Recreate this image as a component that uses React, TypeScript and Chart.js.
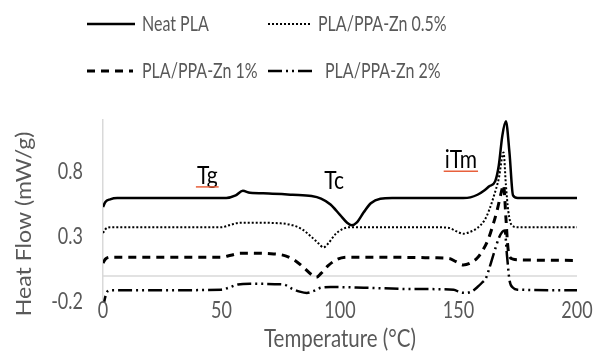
import React, { useEffect, useRef } from "react";
import { Chart, registerables } from "chart.js";

Chart.register(...registerables);

// ---- data ----
const seriesNames = ["Neat PLA", "PLA/PPA-Zn 0.5%", "PLA/PPA-Zn 1%", "PLA/PPA-Zn 2%"];

const neatTemp = [0, 1, 3, 6, 20, 40, 52, 56, 59, 62, 70, 80, 88, 92, 96, 100, 103, 105, 107, 110, 113, 117, 122, 140, 152, 155, 158, 161, 163, 165.5, 167, 168.5, 170, 171.5, 173, 175, 200];
const neatFlow = [0.53, 0.57, 0.59, 0.6, 0.6, 0.6, 0.6, 0.62, 0.655, 0.64, 0.635, 0.625, 0.615, 0.595, 0.55, 0.47, 0.41, 0.39, 0.41, 0.49, 0.56, 0.595, 0.6, 0.6, 0.6, 0.605, 0.625, 0.66, 0.69, 0.73, 0.85, 1.08, 1.19, 0.95, 0.62, 0.6, 0.6];

const zn05Temp = [0, 1, 3, 20, 50, 54, 58, 62, 75, 80, 84, 88, 91, 93, 95, 98, 101, 104, 110, 140, 146, 149, 152, 155, 158, 161, 163, 165, 167, 169, 170, 171, 172.5, 175, 200];
const zn05Flow = [0.33, 0.36, 0.375, 0.375, 0.375, 0.395, 0.41, 0.41, 0.405, 0.39, 0.36, 0.3, 0.25, 0.22, 0.25, 0.32, 0.36, 0.375, 0.375, 0.375, 0.37, 0.345, 0.325, 0.34, 0.37, 0.43, 0.51, 0.62, 0.75, 0.95, 0.7, 0.5, 0.39, 0.375, 0.375];

const zn1Temp = [0, 1, 3, 20, 50, 54, 58, 62, 72, 77, 81, 85, 88, 90, 92, 95, 99, 103, 110, 140, 146, 149, 152, 155, 158, 160, 162.5, 165, 166.5, 168, 169, 170, 170.7, 171.3, 173, 175, 200];
const zn1Flow = [0.1, 0.13, 0.145, 0.145, 0.145, 0.16, 0.175, 0.175, 0.17, 0.155, 0.12, 0.06, 0.01, -0.01, 0.02, 0.08, 0.13, 0.145, 0.145, 0.14, 0.135, 0.11, 0.085, 0.1, 0.14, 0.19, 0.28, 0.42, 0.52, 0.64, 0.7, 0.45, 0.25, 0.16, 0.13, 0.125, 0.12];

const zn2Temp = [0, 0.5, 1.5, 3, 20, 50, 53, 57, 62, 76, 80, 83, 86, 89, 92, 96, 110, 130, 148, 150.5, 153, 156, 158, 160, 161.5, 163, 165, 167, 168.5, 169.5, 170.5, 171.5, 173, 175, 200];
const zn2Flow = [-0.26, -0.2, -0.13, -0.11, -0.11, -0.105, -0.09, -0.065, -0.06, -0.065, -0.1, -0.12, -0.13, -0.115, -0.09, -0.085, -0.09, -0.1, -0.105, -0.125, -0.13, -0.115, -0.085, -0.05, -0.02, 0.06, 0.18, 0.29, 0.34, 0.35, 0.15, -0.03, -0.09, -0.105, -0.11];

const xTickValues = [0, 50, 100, 150, 200];
const yTickValues = [-0.2, 0.3, 0.8];
const xTitle = "Temperature (°C)";
const yTitle = "Heat Flow (mW/g)";

const annotationTexts = ["Tg", "Tc", "iTm"];
const annotationTemps = [44, 97.5, 151];
const annotationFlows = [0.77, 0.73, 0.89];
const annotationUnderlined = [true, false, true];

// ---- styles ----
const FONT = 'Lato, "Liberation Sans", sans-serif';
const GRAY_TEXT = "#595959";
const lineStyles = [
  { dash: [] as number[], width: 2.5 },
  { dash: [2, 2], width: 2 },
  { dash: [8, 6], width: 3 },
  { dash: [14, 4, 2, 4, 2, 4], width: 2.5 },
];
const legendPlaces = [
  { x1: 87, x2: 135, y: 24, tx: 142 },
  { x1: 268, x2: 310, y: 24, tx: 318 },
  { x1: 87, x2: 133, y: 71, tx: 142 },
  { x1: 268, x2: 316, y: 71, tx: 325 },
];

const temps = [neatTemp, zn05Temp, zn1Temp, zn2Temp];
const flows = [neatFlow, zn05Flow, zn1Flow, zn2Flow];

function drawText(
  ctx: CanvasRenderingContext2D,
  text: string,
  x: number,
  y: number,
  align: CanvasTextAlign,
  size: number,
  color: string,
  sy: number,
  rotate = 0,
  sx = 1
) {
  ctx.save();
  ctx.translate(x, y);
  if (rotate) ctx.rotate(rotate);
  ctx.scale(sx, sy);
  ctx.font = `${size}px ${FONT}`;
  ctx.textAlign = align;
  ctx.textBaseline = "middle";
  ctx.fillStyle = color;
  ctx.fillText(text, 0, 0);
  ctx.restore();
}

const decorPlugin = {
  id: "decor",
  beforeDatasetsDraw(chart: any) {
    const { ctx, chartArea, scales } = chart;
    const y0 = scales.y.getPixelForValue(0);
    ctx.save();
    ctx.strokeStyle = "#d9d9d9";
    ctx.lineWidth = 1.5;
    ctx.beginPath();
    ctx.moveTo(chartArea.left, y0);
    ctx.lineTo(chartArea.right, y0);
    ctx.stroke();
    ctx.restore();
  },
  afterDraw(chart: any) {
    const { ctx, scales, chartArea } = chart;
    ctx.save();
    // axis tick labels
    yTickValues.forEach((v) => {
      drawText(ctx, String(v), chartArea.left - 20, scales.y.getPixelForValue(v), "right", 18, GRAY_TEXT, 1.25);
    });
    xTickValues.forEach((v) => {
      drawText(ctx, String(v), scales.x.getPixelForValue(v), chartArea.bottom + 9, "center", 18, GRAY_TEXT, 1.25);
    });
    // axis titles
    drawText(ctx, xTitle, (chartArea.left + chartArea.right) / 2, chartArea.bottom + 37, "center", 20.5, GRAY_TEXT, 1.2);
    drawText(ctx, yTitle, 24, 224, "center", 21, GRAY_TEXT, 1.0, -Math.PI / 2, 1.1);
    // legend
    seriesNames.forEach((name, i) => {
      const p = legendPlaces[i];
      const s = lineStyles[i];
      ctx.strokeStyle = "#000";
      ctx.lineWidth = s.width;
      ctx.lineCap = "butt";
      ctx.setLineDash(s.dash);
      ctx.beginPath();
      ctx.moveTo(p.x1, p.y);
      ctx.lineTo(p.x2, p.y);
      ctx.stroke();
      ctx.setLineDash([]);
      drawText(ctx, name, p.tx, p.y, "left", 16, GRAY_TEXT, 1.3);
    });
    // annotations
    annotationTexts.forEach((t, i) => {
      const x = scales.x.getPixelForValue(annotationTemps[i]);
      const y = scales.y.getPixelForValue(annotationFlows[i]);
      drawText(ctx, t, x, y, "center", 21, "#000", 1.15);
      if (annotationUnderlined[i]) {
        ctx.font = `21px ${FONT}`;
        const w = ctx.measureText(t).width;
        ctx.strokeStyle = "#e8603c";
        ctx.lineWidth = 1.5;
        ctx.beginPath();
        ctx.moveTo(x - w / 2 - 1, y + 11);
        ctx.lineTo(x + w / 2 + 1, y + 11);
        ctx.stroke();
      }
    });
    ctx.restore();
  },
};

export default function App() {
  const ref = useRef<HTMLCanvasElement | null>(null);

  useEffect(() => {
    if (!ref.current) return;
    const chart = new Chart(ref.current, {
      type: "line",
      data: {
        datasets: seriesNames.map((name, i) => ({
          label: name,
          data: temps[i].map((t, j) => ({ x: t, y: flows[i][j] })),
          borderColor: "#000",
          borderWidth: lineStyles[i].width,
          borderDash: lineStyles[i].dash,
          borderCapStyle: "butt",
          pointRadius: 0,
          fill: false,
          cubicInterpolationMode: "monotone",
        })),
      },
      options: {
        animation: false,
        responsive: false,
        layout: { padding: { top: 120, right: 31, left: 0, bottom: 0 } },
        plugins: { legend: { display: false }, tooltip: { enabled: false } },
        scales: {
          x: {
            type: "linear",
            min: 0,
            max: 200,
            afterBuildTicks: (s: any) => {
              s.ticks = xTickValues.map((v) => ({ value: v }));
            },
            afterFit: (s: any) => {
              s.height = 50;
            },
            ticks: { display: false },
            grid: { display: false, drawTicks: false },
            border: { display: false },
            title: { display: false },
          },
          y: {
            type: "linear",
            min: -0.2,
            max: 1.2,
            afterBuildTicks: (s: any) => {
              s.ticks = yTickValues.map((v) => ({ value: v }));
            },
            afterFit: (s: any) => {
              s.width = 103;
            },
            ticks: { display: false },
            grid: { display: false, drawTicks: false },
            border: { display: true, color: "#d9d9d9", width: 1.5 },
            title: { display: false },
          },
        },
      },
      plugins: [decorPlugin],
    } as any);
    return () => chart.destroy();
  }, []);

  return (
    <div style={{ position: "fixed", left: 0, top: 0, width: 608, height: 352, background: "#fff" }}>
      <canvas ref={ref} width={608} height={352} style={{ width: 608, height: 352, display: "block" }} />
    </div>
  );
}
